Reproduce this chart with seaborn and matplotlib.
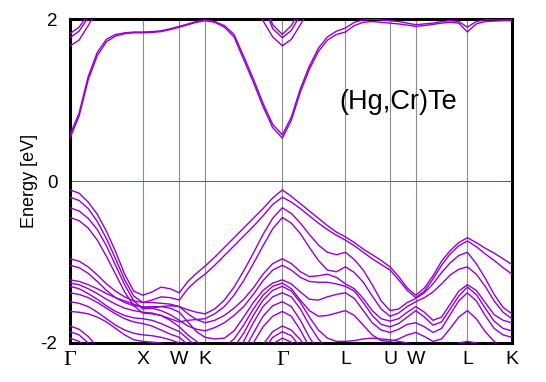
import numpy as np
import pandas as pd
import matplotlib
matplotlib.use("Agg")
import matplotlib.pyplot as plt
import seaborn as sns

# k-path (fcc): node positions along the path and number of samples per segment
NODE_LABELS = ["Γ", "X", "W", "K", "Γ", "L", "U", "W", "L", "K"]
NODE_K = [0.0, 1.0, 1.5, 1.8536, 2.9142, 3.7802, 4.3926, 4.7462, 5.4533, 6.0657]
N_SUB = [8, 4, 3, 8, 7, 5, 3, 6, 5]

# band energies (eV), one value per k sample (50 samples)
CB1A = [0.53, 0.80, 1.25, 1.55, 1.72, 1.79, 1.82, 1.83, 1.83,
        1.835, 1.845, 1.87, 1.90, 1.93, 1.96, 1.98,
        1.96, 1.90, 1.78, 1.50, 1.22, 0.92, 0.66, 0.53,
        0.75, 1.10, 1.38, 1.60, 1.74, 1.81, 1.84,
        1.92, 1.96, 1.97, 1.96, 1.95, 1.94, 1.925, 1.91,
        1.92, 1.935, 1.95, 1.96, 1.95, 1.84,
        1.94, 1.97, 1.975, 1.98, 1.98]
CB1B = [0.57, 0.84, 1.29, 1.59, 1.75, 1.81, 1.83, 1.84, 1.84,
        1.845, 1.855, 1.88, 1.91, 1.94, 1.97, 1.99,
        1.97, 1.92, 1.81, 1.54, 1.26, 0.96, 0.70, 0.57,
        0.79, 1.14, 1.42, 1.64, 1.78, 1.85, 1.89,
        1.96, 1.99, 2.00, 1.99, 1.98, 1.97, 1.95, 1.93,
        1.94, 1.95, 1.97, 1.98, 1.97, 1.90,
        1.97, 1.99, 2.00, 2.00, 2.00]
CB2 = [1.67, 1.74, 1.92, 2.12, 2.30, 2.5, 2.5, 2.5, 2.5,
       2.5, 2.5, 2.5, 2.5, 2.5, 2.5, 2.5,
       2.5, 2.5, 2.5, 2.5, 2.18, 1.98, 1.78, 1.67,
       1.75, 1.93, 2.12, 2.30, 2.5, 2.5, 2.5,
       2.5, 2.5, 2.5, 2.5, 2.5, 2.5, 2.5, 2.5,
       2.5, 2.5, 2.5, 2.5, 2.5, 2.5,
       2.5, 2.5, 2.5, 2.5, 2.5]
CB3 = [1.77, 1.85, 2.02, 2.25, 2.5, 2.5, 2.5, 2.5, 2.5,
       2.5, 2.5, 2.5, 2.5, 2.5, 2.5, 2.5,
       2.5, 2.5, 2.5, 2.5, 2.5, 2.20, 1.88, 1.77,
       1.86, 2.05, 2.30, 2.5, 2.5, 2.5, 2.5,
       2.5, 2.5, 2.5, 2.5, 2.5, 2.5, 2.5, 2.5,
       2.5, 2.5, 2.5, 2.5, 2.5, 2.5,
       2.5, 2.5, 2.5, 2.5, 2.5]
CB4 = [1.82, 1.90, 2.06, 2.30, 2.5, 2.5, 2.5, 2.5, 2.5,
       2.5, 2.5, 2.5, 2.5, 2.5, 2.5, 2.5,
       2.5, 2.5, 2.5, 2.5, 2.5, 2.25, 1.93, 1.81,
       1.92, 2.12, 2.35, 2.5, 2.5, 2.5, 2.5,
       2.5, 2.5, 2.5, 2.5, 2.5, 2.5, 2.5, 2.5,
       2.5, 2.5, 2.5, 2.5, 2.5, 2.5,
       2.5, 2.5, 2.5, 2.5, 2.5]

VB1 = [-0.11, -0.15, -0.26, -0.41, -0.62, -0.87, -1.15, -1.36, -1.41,
       -1.37, -1.31, -1.33, -1.38, -1.24, -1.14, -1.05,
       -0.94, -0.82, -0.70, -0.58, -0.46, -0.34, -0.21, -0.11,
       -0.19, -0.28, -0.37, -0.46, -0.55, -0.63, -0.69,
       -0.76, -0.84, -0.91, -0.98, -1.06, -1.18, -1.32, -1.41,
       -1.32, -1.17, -0.99, -0.86, -0.76, -0.70,
       -0.76, -0.83, -0.89, -0.96, -1.03]
VB2 = [-0.20, -0.24, -0.34, -0.50, -0.71, -0.96, -1.22, -1.42, -1.50,
       -1.47, -1.43, -1.44, -1.47, -1.33, -1.23, -1.15,
       -1.04, -0.92, -0.80, -0.68, -0.56, -0.43, -0.29, -0.20,
       -0.26, -0.34, -0.43, -0.52, -0.60, -0.67, -0.73,
       -0.80, -0.88, -0.96, -1.03, -1.10, -1.22, -1.35, -1.44,
       -1.36, -1.21, -1.04, -0.90, -0.80, -0.74,
       -0.81, -0.90, -0.98, -1.07, -1.15]
VB3 = [-0.33, -0.37, -0.46, -0.60, -0.80, -1.04, -1.28, -1.48, -1.58,
       -1.57, -1.55, -1.54, -1.55, -1.59, -1.62, -1.64,
       -1.58, -1.47, -1.31, -1.11, -0.89, -0.66, -0.46, -0.33,
       -0.40, -0.52, -0.66, -0.79, -0.88, -0.91, -0.88,
       -0.97, -1.10, -1.28, -1.48, -1.60, -1.58, -1.50, -1.45,
       -1.38, -1.27, -1.13, -1.01, -0.92, -0.88,
       -1.02, -1.20, -1.40, -1.56, -1.64]
VB4 = [-0.45, -0.49, -0.58, -0.73, -0.93, -1.15, -1.37, -1.54, -1.63,
       -1.64, -1.66, -1.70, -1.74, -1.72, -1.71, -1.70,
       -1.64, -1.55, -1.41, -1.23, -1.02, -0.80, -0.59, -0.45,
       -0.52, -0.65, -0.82, -0.98, -1.10, -1.12, -1.06,
       -1.13, -1.25, -1.42, -1.58, -1.67, -1.63, -1.55, -1.49,
       -1.44, -1.37, -1.27, -1.16, -1.09, -1.06,
       -1.15, -1.30, -1.48, -1.62, -1.70]
VB5 = [-0.96, -0.99, -1.06, -1.16, -1.27, -1.36, -1.43, -1.48, -1.50,
       -1.50, -1.51, -1.52, -1.55, -1.64, -1.71, -1.75,
       -1.72, -1.66, -1.57, -1.46, -1.32, -1.15, -1.02, -0.96,
       -1.02, -1.12, -1.18, -1.17, -1.15, -1.19, -1.27,
       -1.33, -1.45, -1.60, -1.70, -1.73, -1.70, -1.62, -1.55,
       -1.62, -1.72, -1.68, -1.52, -1.36, -1.28,
       -1.35, -1.50, -1.65, -1.72, -1.75]
VB6 = [-1.04, -1.07, -1.14, -1.24, -1.35, -1.44, -1.50, -1.54, -1.55,
       -1.57, -1.60, -1.65, -1.72, -1.79, -1.83, -1.85,
       -1.81, -1.75, -1.66, -1.55, -1.40, -1.23, -1.10, -1.04,
       -1.10, -1.19, -1.24, -1.25, -1.25, -1.27, -1.30,
       -1.36, -1.50, -1.66, -1.77, -1.80, -1.76, -1.68, -1.60,
       -1.68, -1.78, -1.74, -1.58, -1.42, -1.31,
       -1.40, -1.57, -1.73, -1.82, -1.85]
VB7 = [-1.22, -1.24, -1.28, -1.33, -1.39, -1.44, -1.48, -1.52, -1.56,
       -1.55, -1.55, -1.57, -1.62, -1.74, -1.86, -1.93,
       -1.95, -1.94, -1.85, -1.68, -1.50, -1.35, -1.26, -1.22,
       -1.27, -1.37, -1.46, -1.47, -1.43, -1.40, -1.38,
       -1.45, -1.60, -1.75, -1.84, -1.87, -1.83, -1.77, -1.75,
       -1.80, -1.87, -1.82, -1.65, -1.48, -1.38,
       -1.48, -1.66, -1.82, -1.90, -1.93]
VB8 = [-1.26, -1.28, -1.33, -1.39, -1.46, -1.52, -1.57, -1.60, -1.62,
       -1.63, -1.66, -1.72, -1.80, -1.90, -1.98, -2.05,
       -2.08, -2.05, -1.95, -1.78, -1.58, -1.41, -1.30, -1.26,
       -1.33, -1.47, -1.60, -1.67, -1.66, -1.63, -1.60,
       -1.66, -1.78, -1.90, -1.97, -1.98, -1.95, -1.90, -1.87,
       -1.92, -1.98, -1.95, -1.82, -1.68, -1.60,
       -1.70, -1.86, -1.98, -2.05, -2.05]
VB9 = [-1.30, -1.33, -1.39, -1.46, -1.54, -1.61, -1.66, -1.69, -1.70,
       -1.72, -1.76, -1.81, -1.86, -1.95, -2.05, -2.20,
       -2.20, -2.15, -2.05, -1.88, -1.66, -1.47, -1.35, -1.30,
       -1.36, -1.50, -1.68, -1.84, -1.94, -1.98, -1.98,
       -1.97, -1.95, -1.94, -1.95, -1.96, -1.98, -2.00, -2.02,
       -2.06, -2.10, -2.10, -2.05, -2.00, -1.98,
       -2.00, -2.05, -2.10, -2.15, -2.20]
VB10 = [-1.38, -1.40, -1.44, -1.50, -1.57, -1.64, -1.70, -1.74, -1.76,
        -1.79, -1.84, -1.89, -1.93, -2.02, -2.15, -2.30,
        -2.30, -2.25, -2.15, -1.98, -1.75, -1.55, -1.43, -1.38,
        -1.43, -1.58, -1.78, -1.95, -2.08, -2.12, -2.12,
        -2.2, -2.2, -2.2, -2.2, -2.2, -2.2, -2.2, -2.2,
        -2.2, -2.2, -2.2, -2.2, -2.2, -2.2,
        -2.2, -2.2, -2.2, -2.2, -2.3]
VB11 = [-1.49, -1.51, -1.55, -1.62, -1.70, -1.78, -1.84, -1.88, -1.90,
        -1.91, -1.93, -1.96, -2.00, -2.10, -2.25, -2.40,
        -2.40, -2.35, -2.25, -2.10, -1.88, -1.67, -1.54, -1.49,
        -1.55, -1.72, -1.93, -2.10, -2.20, -2.3, -2.3,
        -2.3, -2.3, -2.3, -2.3, -2.3, -2.3, -2.3, -2.3,
        -2.3, -2.3, -2.3, -2.3, -2.3, -2.3,
        -2.3, -2.3, -2.3, -2.3, -2.4]
VB12 = [-1.61, -1.62, -1.64, -1.68, -1.74, -1.82, -1.90, -1.96, -1.98,
        -1.99, -2.00, -2.05, -2.10, -2.20, -2.35, -2.50,
        -2.50, -2.45, -2.35, -2.20, -2.00, -1.80, -1.67, -1.61,
        -1.67, -1.84, -2.05, -2.20, -2.4, -2.4, -2.4,
        -2.4, -2.4, -2.4, -2.4, -2.4, -2.4, -2.4, -2.4,
        -2.4, -2.4, -2.4, -2.4, -2.4, -2.4,
        -2.4, -2.4, -2.4, -2.4, -2.5]
VB13 = [-1.79, -1.83, -1.92, -2.05, -2.20, -2.5, -2.5, -2.5, -2.5,
        -2.5, -2.5, -2.5, -2.5, -2.5, -2.5, -2.5,
        -2.5, -2.5, -2.5, -2.5, -2.25, -2.02, -1.86, -1.79,
        -1.84, -1.96, -2.12, -2.5, -2.5, -2.5, -2.5,
        -2.5, -2.5, -2.5, -2.5, -2.5, -2.5, -2.5, -2.5,
        -2.5, -2.5, -2.5, -2.5, -2.5, -2.5,
        -2.5, -2.5, -2.5, -2.5, -2.5]
VB14 = [-1.86, -1.90, -2.00, -2.15, -2.5, -2.5, -2.5, -2.5, -2.5,
        -2.5, -2.5, -2.5, -2.5, -2.5, -2.5, -2.5,
        -2.5, -2.5, -2.5, -2.5, -2.5, -2.10, -1.93, -1.86,
        -1.91, -2.05, -2.5, -2.5, -2.5, -2.5, -2.5,
        -2.5, -2.5, -2.5, -2.5, -2.5, -2.5, -2.5, -2.5,
        -2.5, -2.5, -2.5, -2.5, -2.5, -2.5,
        -2.5, -2.5, -2.5, -2.5, -2.5]
VB15 = [-1.94, -1.98, -2.08, -2.25, -2.5, -2.5, -2.5, -2.5, -2.5,
        -2.5, -2.5, -2.5, -2.5, -2.5, -2.5, -2.5,
        -2.5, -2.5, -2.5, -2.5, -2.5, -2.20, -2.01, -1.94,
        -1.99, -2.12, -2.5, -2.5, -2.5, -2.5, -2.5,
        -2.5, -2.5, -2.5, -2.5, -2.5, -2.5, -2.5, -2.5,
        -2.5, -2.5, -2.5, -2.5, -2.5, -2.5,
        -2.5, -2.5, -2.5, -2.5, -2.5]

BANDS = {
    "cb1a": CB1A, "cb1b": CB1B, "cb2": CB2, "cb3": CB3, "cb4": CB4,
    "vb1": VB1, "vb2": VB2, "vb3": VB3, "vb4": VB4, "vb5": VB5,
    "vb6": VB6, "vb7": VB7, "vb8": VB8, "vb9": VB9, "vb10": VB10,
    "vb11": VB11, "vb12": VB12, "vb13": VB13, "vb14": VB14, "vb15": VB15,
}

# sample positions along the path
k_grid = [NODE_K[0]]
for i, n in enumerate(N_SUB):
    seg = np.linspace(NODE_K[i], NODE_K[i + 1], n + 1)[1:]
    k_grid.extend(seg)
k_grid = np.array(k_grid)

rows = []
for name, energies in BANDS.items():
    for k, e in zip(k_grid, energies):
        rows.append((name, k, e))
df = pd.DataFrame(rows, columns=["band", "k", "E"])

sns.set_style("white")
plt.rcParams["font.family"] = ["Liberation Sans", "DejaVu Sans"]
plt.rcParams["text.color"] = "black"
plt.rcParams["axes.labelcolor"] = "black"

fig = plt.figure(figsize=(5.46, 3.82), dpi=100)
ax = fig.add_axes([0.1282, 0.1021, 0.8095, 0.848])

for k in NODE_K[1:-1]:
    ax.axvline(k, color="#8c8c8c", lw=0.8, zorder=1)
ax.axhline(0, color="#b5402f", lw=0.7, zorder=1)

sns.lineplot(data=df, x="k", y="E", units="band", estimator=None, sort=False,
             color="#9400d3", lw=1.0, legend=False, ax=ax, zorder=3)

ax.set_xlim(NODE_K[0], NODE_K[-1])
ax.set_ylim(-2, 2)

ax.set_yticks([-2, 0, 2])
ax.set_yticklabels(["-2", "0", "2"], fontsize=13.5)
ax.set_xticks(NODE_K)
ax.set_xticklabels(NODE_LABELS, fontsize=14)
for lab in ax.get_xticklabels():
    if lab.get_text() == "Γ":
        lab.set_family("Liberation Serif")
        lab.set_fontsize(16)

ax.tick_params(axis="both", direction="in", length=4, width=0.8,
               top=True, right=True, colors="#555555", labelcolor="black")
ax.tick_params(axis="x", pad=6)
ax.tick_params(axis="y", pad=9)

ax.set_xlabel("")
ax.set_ylabel("Energy [eV]", fontsize=13, color="black")
ax.yaxis.set_label_coords(-0.072, 0.5)

for sp in ax.spines.values():
    sp.set_linewidth(2.2)
    sp.set_color("black")
    sp.set_visible(True)

ax.text(4.50, 0.97, "(Hg,Cr)Te", fontsize=19.5, ha="center", va="center",
        color="black")

fig.savefig("out.png", dpi=100)
